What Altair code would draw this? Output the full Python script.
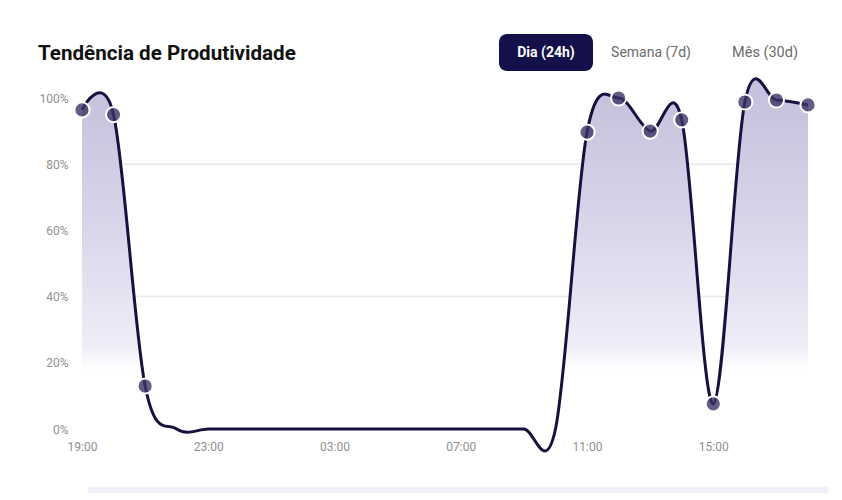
import altair as alt
import pandas as pd

# hourly productivity, last 24h
hours = ['19:00', '20:00', '21:00', '22:00', '23:00', '00:00', '01:00', '02:00',
         '03:00', '04:00', '05:00', '06:00', '07:00', '08:00', '09:00', '10:00',
         '11:00', '12:00', '13:00', '14:00', '15:00', '16:00', '17:00', '18:00']
productivity = [96.4, 95.0, 13.0, 0, 0, 0, 0, 0,
                0, 0, 0, 0, 0, 0, 0, 0,
                89.7, 100.0, 90.0, 93.4, 7.6, 98.8, 99.4, 97.9]
x_labels = ['19:00', '23:00', '03:00', '07:00', '11:00', '15:00']
y_ticks = [0, 20, 40, 60, 80, 100]
grid_values = [40, 80]

FONT = 'Roboto'
NAVY = '#16113f'

df = pd.DataFrame({'hora': hours, 'valor': productivity})

y_scale = alt.Scale(domain=[0, 100], nice=False, zero=True)
y_axis = alt.Axis(values=y_ticks, labelExpr="datum.value + '%'", domain=False,
                  ticks=False, labelPadding=14, labelFontSize=12,
                  labelColor='#8f8f8f', labelFont=FONT, grid=False)

x_enc = alt.X('hora:O', sort=None, title=None,
              scale=alt.Scale(type='point', padding=0),
              axis=alt.Axis(values=x_labels, labelAngle=0, domain=False, ticks=False,
                            labelPadding=12, labelFontSize=12, labelColor='#8f8f8f',
                            labelFont=FONT, grid=False))
y_enc = alt.Y('valor:Q', title=None, scale=y_scale, axis=y_axis)

grid = alt.Chart(pd.DataFrame({'valor': grid_values})).mark_rule(
    color='#e8e8ee', strokeWidth=1.5
).encode(y=y_enc)

fill = alt.Chart(df).mark_area(
    interpolate='cardinal',
    color=alt.Gradient(
        gradient='linear', x1=0, y1=0, x2=0, y2=1,
        stops=[alt.GradientStop(color='#c4bfdb', offset=0),
               alt.GradientStop(color='#d9d6ea', offset=0.4),
               alt.GradientStop(color='#eeedf8', offset=0.72),
               alt.GradientStop(color='#ffffff', offset=0.78)]
    )
).encode(x=x_enc, y=y_enc)

line = alt.Chart(df).mark_line(
    interpolate='cardinal', color=NAVY, strokeWidth=3
).encode(x=x_enc, y=y_enc)

points = alt.Chart(df).transform_filter('datum.valor > 0').mark_point(
    filled=True, shape='circle', size=230, fill='#3b3566', fillOpacity=0.8,
    stroke='white', strokeWidth=2, strokeOpacity=1
).encode(x=x_enc, y=y_enc)

# header: title and period selector
title = alt.Chart(pd.DataFrame({'t': ['Tendência de Produtividade']})).mark_text(
    align='left', baseline='alphabetic', font=FONT, fontSize=20.6, fontWeight='bold',
    color='#111111'
).encode(x=alt.value(-44), y=alt.value(-38), text='t:N')

button = alt.Chart(pd.DataFrame({'b': [1]})).mark_rect(
    color='#14104a', cornerRadius=8
).encode(x=alt.value(417), x2=alt.value(511), y=alt.value(-64), y2=alt.value(-27))

btn_active = alt.Chart(pd.DataFrame({'t': ['Dia (24h)']})).mark_text(
    align='center', baseline='middle', font=FONT, fontSize=14, fontWeight='bold',
    color='white'
).encode(x=alt.value(464), y=alt.value(-45), text='t:N')

btn_week = alt.Chart(pd.DataFrame({'t': ['Semana (7d)']})).mark_text(
    align='center', baseline='middle', font=FONT, fontSize=14, color='#6b6b6b'
).encode(x=alt.value(569), y=alt.value(-45), text='t:N')

btn_month = alt.Chart(pd.DataFrame({'t': ['Mês (30d)']})).mark_text(
    align='center', baseline='middle', font=FONT, fontSize=14.5, color='#6b6b6b'
).encode(x=alt.value(683), y=alt.value(-45), text='t:N')

# faint strip at the bottom of the card
strip = alt.Chart(pd.DataFrame({'b': [1]})).mark_rect(
    color='#f3f0fc'
).encode(x=alt.value(6), x2=alt.value(748), y=alt.value(389), y2=alt.value(395))

chart = alt.layer(
    grid, fill, line, points, title, button, btn_active, btn_week, btn_month, strip
).properties(
    width=726, height=331,
    autosize=alt.AutoSizeParams(type='none'),
    padding={'left': 74, 'top': 90, 'right': 20, 'bottom': 70},
    background='white'
).configure_view(strokeWidth=0)

chart.save('out.html', embed_options={'renderer': 'svg', 'actions': False})
